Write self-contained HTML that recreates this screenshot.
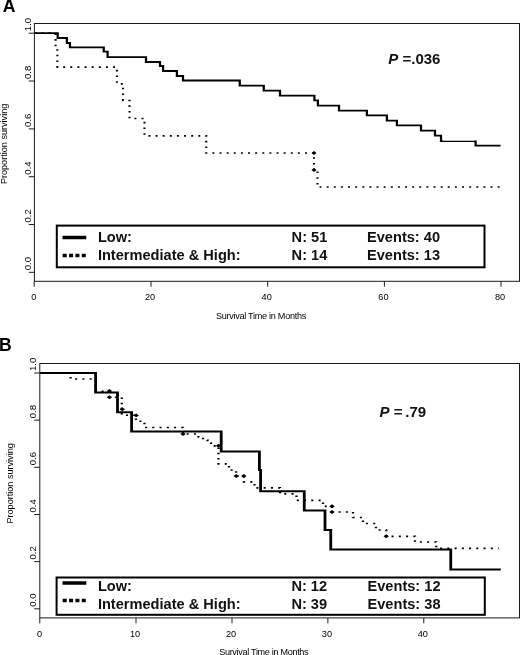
<!DOCTYPE html>
<html lang="en"><head><meta charset="utf-8"><title>Survival curves</title>
<style>html,body{margin:0;padding:0;background:#fff}body{width:520px;height:655px;overflow:hidden}svg{display:block}</style>
</head><body>
<svg width="520" height="655" viewBox="0 0 520 655" font-family="Liberation Sans, Arial, Helvetica, sans-serif">
<rect width="520" height="655" fill="#fff"/>
<rect x="34.4" y="23.5" width="485.1" height="257.8" fill="none" stroke="#1a1a1a" stroke-width="1"/>
<line x1="28.799999999999997" y1="33.2" x2="34.4" y2="33.2" stroke="#1a1a1a" stroke-width="1"/>
<text x="30.6" y="31.200000000000003" font-size="9.6" fill="#000" transform="rotate(-90 30.6 31.200000000000003)">1.0</text>
<line x1="28.799999999999997" y1="81.0" x2="34.4" y2="81.0" stroke="#1a1a1a" stroke-width="1"/>
<text x="30.6" y="79.0" font-size="9.6" fill="#000" transform="rotate(-90 30.6 79.0)">0.8</text>
<line x1="28.799999999999997" y1="128.9" x2="34.4" y2="128.9" stroke="#1a1a1a" stroke-width="1"/>
<text x="30.6" y="126.9" font-size="9.6" fill="#000" transform="rotate(-90 30.6 126.9)">0.6</text>
<line x1="28.799999999999997" y1="176.7" x2="34.4" y2="176.7" stroke="#1a1a1a" stroke-width="1"/>
<text x="30.6" y="174.7" font-size="9.6" fill="#000" transform="rotate(-90 30.6 174.7)">0.4</text>
<line x1="28.799999999999997" y1="224.5" x2="34.4" y2="224.5" stroke="#1a1a1a" stroke-width="1"/>
<text x="30.6" y="222.5" font-size="9.6" fill="#000" transform="rotate(-90 30.6 222.5)">0.2</text>
<line x1="28.799999999999997" y1="272.3" x2="34.4" y2="272.3" stroke="#1a1a1a" stroke-width="1"/>
<text x="30.6" y="270.3" font-size="9.6" fill="#000" transform="rotate(-90 30.6 270.3)">0.0</text>
<line x1="34.2" y1="281.3" x2="34.2" y2="286.7" stroke="#1a1a1a" stroke-width="1"/>
<text x="33.9" y="300.2" font-size="9.2" fill="#000" text-anchor="middle">0</text>
<line x1="151.0" y1="281.3" x2="151.0" y2="286.7" stroke="#1a1a1a" stroke-width="1"/>
<text x="150.0" y="300.2" font-size="9.2" fill="#000" text-anchor="middle">20</text>
<line x1="267.7" y1="281.3" x2="267.7" y2="286.7" stroke="#1a1a1a" stroke-width="1"/>
<text x="266.7" y="300.2" font-size="9.2" fill="#000" text-anchor="middle">40</text>
<line x1="384.4" y1="281.3" x2="384.4" y2="286.7" stroke="#1a1a1a" stroke-width="1"/>
<text x="383.4" y="300.2" font-size="9.2" fill="#000" text-anchor="middle">60</text>
<line x1="501.0" y1="281.3" x2="501.0" y2="286.7" stroke="#1a1a1a" stroke-width="1"/>
<text x="500.0" y="300.2" font-size="9.2" fill="#000" text-anchor="middle">80</text>
<text x="7.2" y="143.9" font-size="9.1" fill="#000" text-anchor="middle" transform="rotate(-90 7.2 143.9)">Proportion surviving</text>
<text x="261.1" y="318.8" font-size="9.1" fill="#000" text-anchor="middle" textLength="90.3" lengthAdjust="spacing">Survival Time in Months</text>
<g transform="scale(1.25,1)">
<path d="M27.52,33.20 L44.48,33.20 L44.48,50.00 L45.92,50.00 L45.92,67.20 L93.52,67.20 L93.52,83.80 L98.40,83.80 L98.40,100.50 L103.60,100.50 L103.60,118.50 L115.60,118.50 L115.60,135.80 L165.00,135.80 L165.00,153.00 L251.20,153.00 L251.20,170.00 L254.00,170.00 L254.00,187.00 L400.60,187.00" fill="none" stroke="#000" stroke-width="1.7" stroke-dasharray="1.6 4.1" stroke-linejoin="miter"/>
<path d="M249.20,153.00 L251.20,151.00 L253.20,153.00 L251.20,155.00Z" fill="#000"/>
<path d="M249.20,170.00 L251.20,168.00 L253.20,170.00 L251.20,172.00Z" fill="#000"/>
<path d="M27.52,33.20 L46.16,33.20 L46.16,38.00 L53.48,38.00 L53.48,43.00 L55.96,43.00 L55.96,47.40 L83.00,47.40 L83.00,51.70 L86.08,51.70 L86.08,57.20 L116.80,57.20 L116.80,62.00 L128.00,62.00 L128.00,66.00 L130.48,66.00 L130.48,71.00 L141.52,71.00 L141.52,76.00 L146.40,76.00 L146.40,80.50 L191.80,80.50 L191.80,85.60 L211.00,85.60 L211.00,90.60 L224.00,90.60 L224.00,95.60 L251.52,95.60 L251.52,100.30 L254.32,100.30 L254.32,105.60 L271.20,105.60 L271.20,110.60 L293.52,110.60 L293.52,115.40 L309.52,115.40 L309.52,120.60 L317.52,120.60 L317.52,125.30 L336.80,125.30 L336.80,130.60 L348.00,130.60 L348.00,135.60 L352.80,135.60 L352.80,141.00 L354.00,141.00" fill="none" stroke="#000" stroke-width="1.8" stroke-linejoin="miter"/>
<path d="M353.60,141.30 L380.48,141.30" fill="none" stroke="#000" stroke-width="1.25"/>
<path d="M380.48,140.50 L380.48,145.60 L400.48,145.60" fill="none" stroke="#000" stroke-width="1.8"/>
</g>
<rect x="56.8" y="225.6" width="427.7" height="41.70000000000002" fill="#fff" stroke="#000" stroke-width="2"/>
<line x1="62.5" y1="237.5" x2="86.3" y2="237.5" stroke="#000" stroke-width="3.5"/>
<line x1="62.7" y1="255.5" x2="86.3" y2="255.5" stroke="#000" stroke-width="3.5" stroke-dasharray="4 2.35"/>
<text font-size="14.6" font-weight="bold" fill="#111" y="241.9"><tspan x="97.9">Low:</tspan><tspan x="291.6">N: 51</tspan><tspan x="367.0">Events: 40</tspan></text>
<text font-size="14.6" font-weight="bold" fill="#111" y="260.0"><tspan x="97.9">Intermediate &amp; High:</tspan><tspan x="291.6">N: 14</tspan><tspan x="367.0">Events: 13</tspan></text>
<text x="388.3" y="63.6" font-size="15" font-weight="bold" fill="#111"><tspan font-style="italic">P</tspan> =.036</text>
<text x="2.8" y="12.4" font-size="17.6" font-weight="bold" fill="#000">A</text>
<rect x="39.8" y="363.5" width="479.7" height="254.39999999999998" fill="none" stroke="#1a1a1a" stroke-width="1"/>
<line x1="34.199999999999996" y1="373.0" x2="39.8" y2="373.0" stroke="#1a1a1a" stroke-width="1"/>
<text x="35.7" y="371.0" font-size="9.6" fill="#000" transform="rotate(-90 35.7 371.0)">1.0</text>
<line x1="34.199999999999996" y1="420.2" x2="39.8" y2="420.2" stroke="#1a1a1a" stroke-width="1"/>
<text x="35.7" y="418.2" font-size="9.6" fill="#000" transform="rotate(-90 35.7 418.2)">0.8</text>
<line x1="34.199999999999996" y1="467.3" x2="39.8" y2="467.3" stroke="#1a1a1a" stroke-width="1"/>
<text x="35.7" y="465.3" font-size="9.6" fill="#000" transform="rotate(-90 35.7 465.3)">0.6</text>
<line x1="34.199999999999996" y1="514.5" x2="39.8" y2="514.5" stroke="#1a1a1a" stroke-width="1"/>
<text x="35.7" y="512.5" font-size="9.6" fill="#000" transform="rotate(-90 35.7 512.5)">0.4</text>
<line x1="34.199999999999996" y1="561.6" x2="39.8" y2="561.6" stroke="#1a1a1a" stroke-width="1"/>
<text x="35.7" y="559.6" font-size="9.6" fill="#000" transform="rotate(-90 35.7 559.6)">0.2</text>
<line x1="34.199999999999996" y1="608.8" x2="39.8" y2="608.8" stroke="#1a1a1a" stroke-width="1"/>
<text x="35.7" y="606.8" font-size="9.6" fill="#000" transform="rotate(-90 35.7 606.8)">0.0</text>
<line x1="39.8" y1="617.9" x2="39.8" y2="623.3" stroke="#1a1a1a" stroke-width="1"/>
<text x="39.5" y="636.6" font-size="9.2" fill="#000" text-anchor="middle">0</text>
<line x1="136.0" y1="617.9" x2="136.0" y2="623.3" stroke="#1a1a1a" stroke-width="1"/>
<text x="135.0" y="636.6" font-size="9.2" fill="#000" text-anchor="middle">10</text>
<line x1="232.0" y1="617.9" x2="232.0" y2="623.3" stroke="#1a1a1a" stroke-width="1"/>
<text x="231.0" y="636.6" font-size="9.2" fill="#000" text-anchor="middle">20</text>
<line x1="327.9" y1="617.9" x2="327.9" y2="623.3" stroke="#1a1a1a" stroke-width="1"/>
<text x="326.9" y="636.6" font-size="9.2" fill="#000" text-anchor="middle">30</text>
<line x1="423.8" y1="617.9" x2="423.8" y2="623.3" stroke="#1a1a1a" stroke-width="1"/>
<text x="422.8" y="636.6" font-size="9.2" fill="#000" text-anchor="middle">40</text>
<text x="13.4" y="483.4" font-size="9.1" fill="#000" text-anchor="middle" transform="rotate(-90 13.4 483.4)">Proportion surviving</text>
<text x="263.9" y="654.6" font-size="9.1" fill="#000" text-anchor="middle" textLength="89.5" lengthAdjust="spacing">Survival Time in Months</text>
<g transform="scale(1.4,1)">
<path d="M28.57,373.00 L50.43,373.00 L50.43,379.00 L68.29,379.00 L68.29,391.20 L78.14,391.20 L78.14,397.20 L87.00,397.20 L87.00,415.20 L97.14,415.20 L97.14,421.20 L103.21,421.20 L103.21,427.50 L130.71,427.50 L130.71,434.00 L141.79,434.00 L141.79,437.00 L145.00,437.00 L145.00,440.00 L148.21,440.00 L148.21,443.00 L150.71,443.00 L150.71,445.80 L156.07,445.80 L156.07,463.80 L163.57,463.80 L163.57,470.00 L168.71,470.00 L168.71,476.00 L174.14,476.00 L174.14,481.80 L181.79,481.80 L181.79,487.80 L200.00,487.80 L200.00,493.80 L211.79,493.80 L211.79,500.40 L230.71,500.40 L230.71,506.30 L237.14,506.30 L237.14,512.00 L252.14,512.00 L252.14,517.50 L259.29,517.50 L259.29,523.50 L268.57,523.50 L268.57,530.00 L275.86,530.00 L275.86,536.30 L296.43,536.30 L296.43,542.00 L311.61,542.00 L311.61,548.30 L356.25,548.30" fill="none" stroke="#000" stroke-width="1.65" stroke-dasharray="1.5 3.68" stroke-linejoin="miter"/>
<path d="M76.19,391.00 L78.14,389.05 L80.09,391.00 L78.14,392.95Z" fill="#000"/>
<path d="M76.19,397.20 L78.14,395.25 L80.09,397.20 L78.14,399.15Z" fill="#000"/>
<path d="M85.41,409.20 L87.36,407.25 L89.31,409.20 L87.36,411.15Z" fill="#000"/>
<path d="M95.34,415.40 L97.29,413.45 L99.24,415.40 L97.29,417.35Z" fill="#000"/>
<path d="M128.76,434.00 L130.71,432.05 L132.66,434.00 L130.71,435.95Z" fill="#000"/>
<path d="M154.12,445.70 L156.07,443.75 L158.02,445.70 L156.07,447.65Z" fill="#000"/>
<path d="M166.76,476.00 L168.71,474.05 L170.66,476.00 L168.71,477.95Z" fill="#000"/>
<path d="M172.19,476.00 L174.14,474.05 L176.09,476.00 L174.14,477.95Z" fill="#000"/>
<path d="M235.19,506.30 L237.14,504.35 L239.09,506.30 L237.14,508.25Z" fill="#000"/>
<path d="M235.19,512.00 L237.14,510.05 L239.09,512.00 L237.14,513.95Z" fill="#000"/>
<path d="M273.91,536.30 L275.86,534.35 L277.81,536.30 L275.86,538.25Z" fill="#000"/>
<path d="M28.57,373.00 L68.29,373.00 L68.29,392.40 L83.93,392.40 L83.93,412.30 L94.00,412.30 L94.00,431.40 L158.00,431.40 L158.00,451.40 L185.29,451.40 L185.29,470.00 L186.14,470.00 L186.14,491.20 L217.32,491.20 L217.32,510.50 L232.14,510.50 L232.14,530.00 L236.25,530.00 L236.25,549.50 L321.96,549.50 L321.96,569.50 L357.68,569.50" fill="none" stroke="#000" stroke-width="2.0" stroke-linejoin="miter"/>
</g>
<rect x="56.6" y="577.5" width="428.2" height="37.299999999999955" fill="#fff" stroke="#000" stroke-width="2"/>
<line x1="62.5" y1="583.0" x2="86.3" y2="583.0" stroke="#000" stroke-width="3.5"/>
<line x1="62.7" y1="600.5" x2="86.3" y2="600.5" stroke="#000" stroke-width="3.5" stroke-dasharray="4 2.35"/>
<text font-size="14.6" font-weight="bold" fill="#111" y="591.4"><tspan x="97.9">Low:</tspan><tspan x="291.4">N: 12</tspan><tspan x="367.5">Events: 12</tspan></text>
<text font-size="14.6" font-weight="bold" fill="#111" y="608.5"><tspan x="97.9">Intermediate &amp; High:</tspan><tspan x="291.4">N: 39</tspan><tspan x="367.5">Events: 38</tspan></text>
<text x="379.5" y="416.5" font-size="15" font-weight="bold" fill="#111"><tspan font-style="italic">P</tspan> = <tspan dx="-1.4">.79</tspan></text>
<text x="-1.0" y="350.9" font-size="17.6" font-weight="bold" fill="#000">B</text>
</svg>
</body></html>
